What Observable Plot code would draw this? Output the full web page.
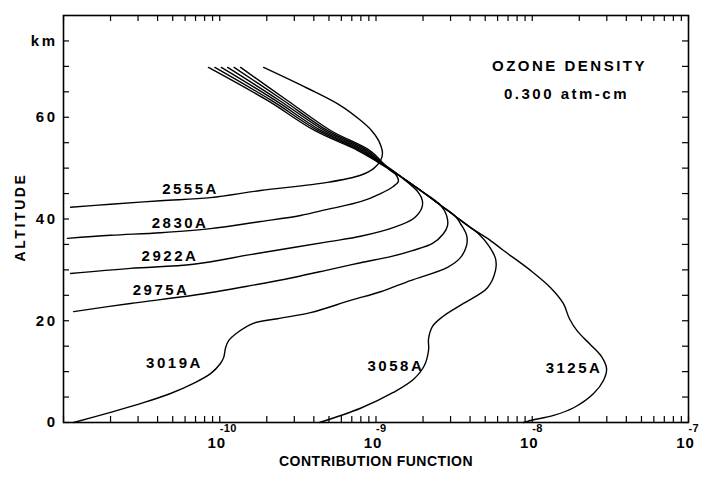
<!DOCTYPE html>
<html><head><meta charset="utf-8">
<script src="https://cdn.jsdelivr.net/npm/d3@7"></script>
<script src="https://cdn.jsdelivr.net/npm/@observablehq/plot@0.6"></script>
<style>
body{margin:0;background:#fff;}
</style></head><body><div id="chart"></div><script>
// Contribution function curves: altitude (km) and contribution value
const alt2555 = [42.3, 42.9, 43.6, 44.2, 45.6, 47.2, 48.6, 49.9, 51.5, 52.9, 55.4, 57.4, 59.4, 62.3, 65.7, 69.8];
const cf2555  = [1.11e-11, 2.0e-11, 4.18e-11, 8.73e-11, 1.82e-10, 4.89e-10, 7.96e-10, 9.64e-10, 1.07e-9, 1.10e-9, 1.04e-9, 9.36e-10, 7.96e-10, 5.93e-10, 3.64e-10, 1.91e-10];

const alt2830 = [36.2, 36.8, 37.3, 38.1, 39.5, 40.7, 41.9, 43.4, 45.0, 46.4, 47.4, 48.6, 49.7, 51.1, 53.5, 57.4, 63.3, 69.8];
const cf2830  = [1.06e-11, 2.0e-11, 4.18e-11, 8.73e-11, 1.82e-10, 3.29e-10, 4.89e-10, 7.96e-10, 1.07e-9, 1.29e-9, 1.39e-9, 1.35e-9, 1.22e-9, 1.10e-9, 9.09e-10, 5.12e-10, 2.71e-10, 1.36e-10];

const alt2922 = [29.3, 30.3, 31.1, 33.0, 34.4, 35.6, 36.6, 38.3, 40.1, 42.1, 43.6, 45.2, 48.4, 51.1, 53.5, 57.4, 63.3, 69.8];
const cf2922  = [1.11e-11, 2.68e-11, 6.79e-11, 1.57e-10, 2.96e-10, 5.12e-10, 7.96e-10, 1.29e-9, 1.74e-9, 1.96e-9, 1.98e-9, 1.87e-9, 1.43e-9, 1.088e-9, 8.77e-10, 4.88e-10, 2.56e-10, 1.236e-10];

const alt2975 = [21.8, 23.4, 25.0, 26.9, 28.5, 30.1, 31.4, 32.6, 33.8, 35.2, 37.1, 38.7, 40.7, 42.7, 45.6, 48.4, 51.1, 53.5, 57.4, 63.3, 69.8];
const cf2975  = [1.16e-11, 2.68e-11, 6.79e-11, 1.57e-10, 2.96e-10, 5.12e-10, 7.96e-10, 1.24e-9, 1.71e-9, 2.30e-9, 2.70e-9, 2.87e-9, 2.83e-9, 2.59e-9, 1.93e-9, 1.43e-9, 1.075e-9, 8.47e-10, 4.66e-10, 2.41e-10, 1.124e-10];

const alt3019 = [0, 2.0, 3.9, 5.7, 7.7, 9.6, 11.6, 12.8, 14.7, 16.1, 17.7, 19.5, 20.4, 21.6, 24.0, 25.7, 27.9, 30.5, 32.4, 34.8, 36.8, 39.1, 40.5, 42.7, 45.6, 48.4, 51.1, 53.5, 57.4, 63.3, 69.8];
const cf3019  = [1.16e-11, 2.0e-11, 3.25e-11, 4.84e-11, 6.79e-11, 8.73e-11, 1.01e-10, 1.06e-10, 1.09e-10, 1.14e-10, 1.30e-10, 1.64e-10, 2.34e-10, 3.81e-10, 6.87e-10, 1.07e-9, 1.66e-9, 2.87e-9, 3.47e-9, 3.80e-9, 3.80e-9, 3.47e-9, 3.23e-9, 2.59e-9, 1.93e-9, 1.43e-9, 1.062e-9, 8.17e-10, 4.44e-10, 2.27e-10, 1.023e-10];

const alt3058 = [0, 2.8, 5.9, 8.5, 11.2, 14.2, 16.5, 18.9, 20.8, 23.4, 26.5, 29.9, 32.2, 34.8, 37.1, 38.3, 40.5, 42.7, 45.6, 48.4, 51.1, 53.5, 57.4, 63.3, 69.8];
const cf3058  = [4.35e-10, 7.96e-10, 1.29e-9, 1.74e-9, 2.04e-9, 2.17e-9, 2.17e-9, 2.30e-9, 2.67e-9, 3.63e-9, 5.17e-9, 5.82e-9, 5.82e-9, 5.25e-9, 4.53e-9, 4.03e-9, 3.23e-9, 2.59e-9, 1.93e-9, 1.43e-9, 1.050e-9, 7.89e-10, 4.24e-10, 2.14e-10, 9.31e-11];

const alt3125 = [0, 0.4, 1.4, 2.9, 5.7, 8.3, 10.6, 13.0, 15.3, 17.9, 20.4, 23.4, 26.5, 29.9, 33.8, 36.2, 38.3, 40.5, 42.7, 45.6, 48.4, 51.1, 53.5, 57.4, 63.3, 69.8];
const cf3125  = [8.79e-9, 9.74e-9, 1.37e-8, 1.84e-8, 2.47e-8, 2.86e-8, 2.99e-8, 2.77e-8, 2.36e-8, 1.95e-8, 1.73e-8, 1.58e-8, 1.31e-8, 9.74e-9, 6.55e-9, 5.17e-9, 4.03e-9, 3.23e-9, 2.59e-9, 1.93e-9, 1.43e-9, 1.038e-9, 7.61e-10, 4.04e-10, 2.02e-10, 8.47e-11];

// Curve labels
const labelNames = ["2555A", "2830A", "2922A", "2975A", "3019A", "3058A", "3125A"];
const labelCF    = [6.50e-11, 5.57e-11, 4.80e-11, 4.21e-11, 5.13e-11, 1.34e-9, 1.85e-8];
const labelAlt   = [45.8, 39.2, 32.6, 26.0, 11.7, 11.0, 10.7];

// Axis labels
const xLabelValues = [1e-10, 1e-9, 1e-8, 1e-7];
const xLabelExponents = ["-10", "-9", "-8", "-7"];
const yLabelValues = [0, 20, 40, 60, 75];
const yLabelTexts = ["0", "20", "40", "60", "km"];
const xDomain = [1e-11, 1e-7];
const yDomain = [0, 80];

const series = [
  ["2555A", alt2555, cf2555], ["2830A", alt2830, cf2830], ["2922A", alt2922, cf2922],
  ["2975A", alt2975, cf2975], ["3019A", alt3019, cf3019], ["3058A", alt3058, cf3058],
  ["3125A", alt3125, cf3125]
];
const rows = series.flatMap(([name, alts, cfs]) => alts.map((h, i) => ({name, h, v: cfs[i]})));
const labels = labelNames.map((t, i) => ({t, v: labelCF[i], h: labelAlt[i]}));

const xTicks = d3.scaleLog().domain(xDomain).ticks();
const yTicks = d3.range(yDomain[0], yDomain[1], 5);

const W = 701, H = 480, mL = 63, mR = 13, mT = 15, mB = 58;
const fw = W - mL - mR, fh = H - mT - mB;
const font = "'Liberation Sans', Arial, Helvetica, sans-serif";

const chart = Plot.plot({
  width: W, height: H,
  marginLeft: mL, marginRight: mR, marginTop: mT, marginBottom: mB,
  x: {type: "log", domain: xDomain, axis: null},
  y: {domain: yDomain, axis: null},
  style: {fontFamily: font, fontSize: "15px", color: "black", background: "white"},
  marks: [
    Plot.tickX(xTicks, {x: d => d, insetTop: fh - 6, stroke: "black", strokeWidth: 1.2}),
    Plot.tickX(xTicks, {x: d => d, insetBottom: fh - 6, stroke: "black", strokeWidth: 1.2}),
    Plot.tickY(yTicks, {y: d => d, insetRight: fw - 6, stroke: "black", strokeWidth: 1.2}),
    Plot.tickY(yTicks, {y: d => d, insetLeft: fw - 6, stroke: "black", strokeWidth: 1.2}),
    Plot.frame({stroke: "black", strokeWidth: 1.6}),
    Plot.line(rows, {x: "v", y: "h", z: "name", curve: "catmull-rom", stroke: "black", strokeWidth: 1.4}),
    Plot.text(labels, {x: "v", y: "h", text: "t", fontWeight: "bold", fontSize: 15, fill: "black"}),
    Plot.text(yLabelValues, {y: d => d, text: (d, i) => yLabelTexts[i], frameAnchor: "left", dx: -6, textAnchor: "end", fontWeight: "bold", fontSize: 15}),
    Plot.text(xLabelValues, {x: d => d, text: () => "10", frameAnchor: "bottom", dy: 25, dx: -3, fontWeight: "bold", fontSize: 15}),
    Plot.text(xLabelValues, {x: d => d, text: (d, i) => xLabelExponents[i], frameAnchor: "bottom", dy: 9, dx: 0, textAnchor: "start", fontWeight: "bold", fontSize: 11}),
    Plot.text(["CONTRIBUTION FUNCTION"], {frameAnchor: "bottom", dy: 43, textAnchor: "middle", fontWeight: "bold", fontSize: 14}),
    Plot.text(["ALTITUDE"], {frameAnchor: "left", dx: -43, dy: -2, rotate: -90, textAnchor: "middle", fontWeight: "bold", fontSize: 14}),
    Plot.text(["OZONE DENSITY"], {frameAnchor: "top-right", dx: -119, dy: 45, textAnchor: "middle", fontWeight: "bold", fontSize: 15}),
    Plot.text(["0.300 atm-cm"], {frameAnchor: "top-right", dx: -122, dy: 73, textAnchor: "middle", fontWeight: "bold", fontSize: 15})
  ]
});

// letter spacing similar to the original typewritten lettering
const spacing = new Map([
  ["CONTRIBUTION FUNCTION", "0.5px"], ["ALTITUDE", "2.6px"], ["10", "1px"],
  ["-10", "0.3px"], ["-9", "0.3px"], ["-8", "0.3px"], ["-7", "0.3px"]
]);
chart.querySelectorAll("text").forEach(t => {
  const s = t.textContent;
  t.setAttribute("letter-spacing", spacing.has(s) ? spacing.get(s) : "2.5px");
});
document.getElementById("chart").appendChild(chart);
</script></body></html>
